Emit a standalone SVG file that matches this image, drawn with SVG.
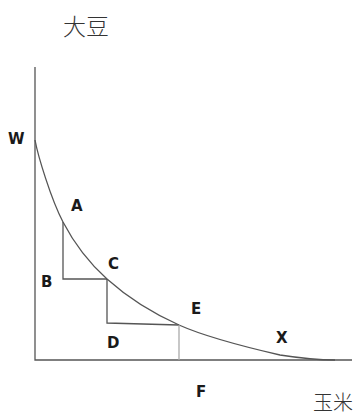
<svg xmlns="http://www.w3.org/2000/svg" width="353" height="417" viewBox="0 0 353 417">
<style>
.ln{fill:none;stroke:#555;stroke-width:1.3}
.lt{fill:none;stroke:#aaa;stroke-width:1.3}
.lb{font-family:"DejaVu Sans","Liberation Sans",sans-serif;font-weight:bold;font-size:15px;fill:#1a1a1a}
.cj{font-family:"Noto Sans CJK SC","Noto Sans CJK JP",sans-serif;font-weight:300;fill:#333}
</style>
<rect width="353" height="417" fill="#fff"/>
<g id="connectors">
<path id="axes" class="ln" d="M35,67 V360 H352"/>
<path id="curve" class="ln" d="M35,140 C38,156 51,199 63,222 C75,245 88,262 107,279 C126,296 150,312 179,325 C208,338 254,349 280,355 C306,359 326,360 335,360"/>
<path id="stepAB" class="ln" d="M63,222 V279 H107"/>
<path id="stepCD" class="ln" d="M107,279 V323 L179,325"/>
<path id="stepEF" class="lt" d="M179,325 V360"/>
</g>
<g id="soy"><text class="cj" x="63" y="35" font-size="23">大豆</text></g>
<g id="corn"><text class="cj" x="313" y="410" font-size="20">玉米</text></g>
<g id="W"><text class="lb" x="8" y="144">W</text></g>
<g id="A"><text class="lb" x="71" y="211">A</text></g>
<g id="B"><text class="lb" x="41" y="287">B</text></g>
<g id="C"><text class="lb" x="108" y="269">C</text></g>
<g id="D"><text class="lb" x="107" y="348">D</text></g>
<g id="E"><text class="lb" x="191" y="314">E</text></g>
<g id="X"><text class="lb" x="276" y="343">X</text></g>
<g id="F"><text class="lb" x="196" y="397">F</text></g>
</svg>
